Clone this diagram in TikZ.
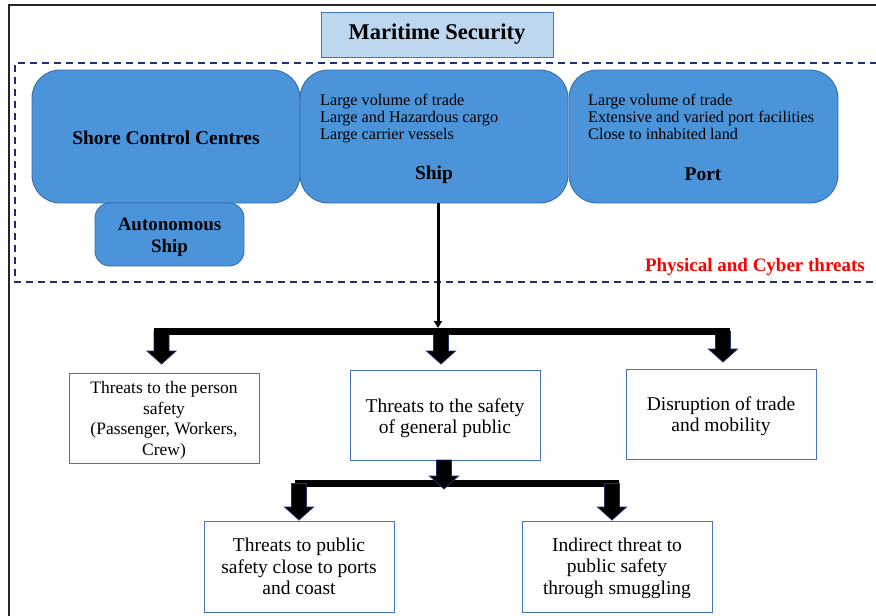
\documentclass[tikz,border=0pt]{standalone}
\usepackage{fontspec}
\setmainfont{Liberation Serif}
\usetikzlibrary{arrows.meta}

\definecolor{titlefill}{HTML}{BDD7EE}
\definecolor{boxedge}{HTML}{4472C4}
\definecolor{bluefill}{HTML}{4B94DA}
\definecolor{blueedge}{HTML}{3A6DAA}
\definecolor{navy}{HTML}{1F2F6E}

\tikzset{
  titlebox/.style={draw=boxedge, fill=titlefill, line width=0.9pt,
    minimum width=232pt, minimum height=45pt, inner sep=0pt,
    font=\fontsize{22.5}{26}\selectfont\bfseries},
  zonebox/.style={draw=blueedge, fill=bluefill, line width=0.9pt,
    rounded corners=28pt, minimum height=133pt, inner sep=0pt},
  smallzone/.style={draw=blueedge, fill=bluefill, line width=0.9pt,
    rounded corners=15pt, minimum width=149pt, minimum height=63pt,
    inner sep=0pt, align=center,
    font=\fontsize{19}{22}\selectfont\bfseries},
  zonelabel/.style={font=\fontsize{19.5}{22}\selectfont\bfseries, inner sep=0pt},
  zonelist/.style={align=left, inner sep=0pt, anchor=north west,
    font=\fontsize{16.2}{17}\selectfont},
  threatbox/.style={draw=boxedge, fill=white, line width=0.8pt,
    minimum width=190pt, minimum height=90pt, inner sep=2pt, align=center},
  blockarrow/.style={fill=black, draw=navy, line width=0.8pt, line join=miter},
  barline/.style={line width=7pt, black},
}

% down-pointing block arrow: centre x, top y, tip y
\newcommand{\downblock}[3]{%
  \filldraw[blockarrow] ({#1-7.5},#2) -- ({#1+7.5},#2) -- ({#1+7.5},{#3-13})
    -- ({#1+14.5},{#3-13}) -- (#1,#3) -- ({#1-14.5},{#3-13})
    -- ({#1-7.5},{#3-13}) -- cycle;}

\begin{document}
\begin{tikzpicture}[x=1pt, y=-1pt]
\useasboundingbox (0,0) rectangle (876,616);

% outer frame, left and top
\draw[line width=2pt, black!85] (9,617) -- (9,5) -- (877,5);

% title
\node[titlebox] (title) at (437,34.5) {Maritime Security};

% dashed zone of physical and cyber threats
\draw[navy, line width=1.6pt, dash pattern=on 7pt off 5pt]
  (877,63) -- (15,63) -- (15,282) -- (877,282);

% three assets
\node[zonebox, minimum width=268pt] (shore) at (166,136.5) {};
\node[zonebox, minimum width=268pt] (ship) at (434,136.5) {};
\node[zonebox, minimum width=269pt] (port) at (703.5,136.5) {};
\node[smallzone] (auto) at (169.5,234.5) {};
\node[align=center, inner sep=0pt, font=\fontsize{19}{22}\selectfont\bfseries]
  (autolbl) at (169.5,237) {Autonomous\\Ship};

\node[zonelabel] (shorelbl) at (166,137.5) {Shore Control Centres};
\node[zonelist] (shiplist) at (320,93.5)
  {Large volume of trade\\Large and Hazardous cargo\\Large carrier vessels};
\node[zonelabel] (shiplbl) at (434,174.5) {Ship};
\node[zonelist] (portlist) at (588,93.5)
  {Large volume of trade\\Extensive and varied port facilities\\Close to inhabited land};
\node[zonelabel] (portlbl) at (703,174.5) {Port};

\node[anchor=east, text=red, inner sep=0pt,
  font=\fontsize{19}{22}\selectfont\bfseries] (threatlbl) at (865,266.5)
  {Physical and Cyber threats};

% first distribution bar
\coordinate (barL) at (154,331.5);
\coordinate (barR) at (730,331.5);
\coordinate (barM) at (438,328);
\draw[line width=3pt, -{Triangle[width=8pt,length=7pt]}]
  (ship.south -| barM) -- (barM);

% first-level consequences
\node[threatbox] (person) at (164,418) {};
\node[align=center, inner sep=0pt, font=\fontsize{17.5}{20.5}\selectfont]
  (personlbl) at (164,420.5)
  {Threats to the person\\safety\\(Passenger, Workers,\\Crew)};
\node[threatbox] (general) at (445,415) {};
\node[align=center, inner sep=0pt, font=\fontsize{19.5}{21}\selectfont]
  (generallbl) at (445,418) {Threats to the safety\\of general public};
\node[threatbox] (disrupt) at (721,414) {};
\node[align=center, inner sep=0pt, font=\fontsize{19.5}{21}\selectfont]
  (disruptlbl) at (721,416.5) {Disruption of trade\\and mobility};

\downblock{161.5}{331.5}{364}
\downblock{441}{331.5}{364}
\downblock{723}{331.5}{362}
\draw[barline] (barL) -- (barR);

% second distribution bar
\coordinate (bar2L) at (295,483.5);
\coordinate (bar2R) at (619,483.5);
\draw[barline] (bar2L) -- (bar2R);

\node[threatbox, minimum height=91pt] (coast) at (299,566.5) {};
\node[align=center, inner sep=0pt, font=\fontsize{19.5}{21.5}\selectfont]
  (coastlbl) at (299,566.5)
  {Threats to public\\safety close to ports\\and coast};
\node[threatbox, minimum height=91pt] (smuggle) at (617,566.5) {};
\node[align=center, inner sep=0pt, font=\fontsize{19.5}{21.5}\selectfont]
  (smugglelbl) at (617,568)
  {Indirect threat to\\public safety\\through smuggling};

\downblock{299}{483.5}{520}
\downblock{612}{483.5}{520}
\downblock{444}{460}{489}
\end{tikzpicture}
\end{document}
